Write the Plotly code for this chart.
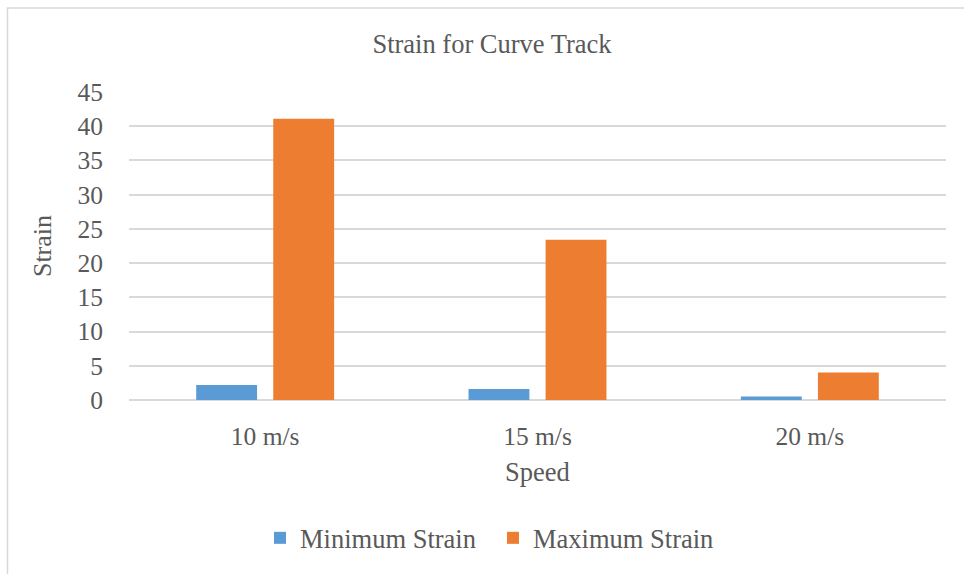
import plotly.graph_objects as go

# Chart data
speeds = ["10 m/s", "15 m/s", "20 m/s"]
min_strain = [2.2, 1.6, 0.5]
max_strain = [41.1, 23.4, 4.0]
y_ticks = [0, 5, 10, 15, 20, 25, 30, 35, 40, 45]

TEXT = "#595959"
GRID = "#D9D9D9"
FONT = "Liberation Serif, Times New Roman, serif"

fig = go.Figure()
fig.add_trace(go.Bar(name="Minimum Strain", x=speeds, y=min_strain,
                     marker=dict(color="#5B9BD5", line=dict(width=0))))
fig.add_trace(go.Bar(name="Maximum Strain", x=speeds, y=max_strain,
                     marker=dict(color="#ED7D31", line=dict(width=0))))

W, H = 964, 574
L, R, T, B = 129, 18, 92, 172
pw, ph = W - L - R, H - T - B

def px_x(p):
    return (p - L) / pw

def px_y(p):
    return (H - B - p) / ph

fig.update_layout(
    width=W, height=H,
    margin=dict(l=L, r=R, t=T, b=B),
    paper_bgcolor="white", plot_bgcolor="white",
    font=dict(family=FONT, color=TEXT, size=25),
    barmode="group", bargap=0.434, bargroupgap=0.21,
    title=dict(text="Strain for Curve Track", x=492 / W, xanchor="center",
               y=1 - 44 / H, yanchor="middle",
               font=dict(size=26.5, color=TEXT, family=FONT)),
    xaxis=dict(title=dict(text="Speed", font=dict(size=26.5), standoff=12),
               showgrid=False, showline=False,
               ticks="outside", ticklen=13, tickcolor="rgba(0,0,0,0)",
               tickfont=dict(size=25.5)),
    yaxis=dict(title=dict(text="Strain", font=dict(size=26), standoff=18),
               range=[0, 45], tickvals=y_ticks, showgrid=True,
               gridcolor=GRID, gridwidth=1.5, zeroline=True,
               zerolinecolor=GRID, zerolinewidth=1.5, showline=False,
               ticks="outside", ticklen=20, tickcolor="rgba(0,0,0,0)",
               tickfont=dict(size=25.5)),
    legend=dict(orientation="h", x=px_x(493), xanchor="center",
                y=px_y(541), yanchor="middle",
                font=dict(size=26.5, color=TEXT), traceorder="normal",
                itemwidth=30, entrywidth=188),
    shapes=[dict(type="rect", xref="paper", yref="paper",
                 x0=px_x(7.5), x1=px_x(970), y0=px_y(580), y1=px_y(7.5),
                 line=dict(color=GRID, width=1.5), layer="below")],
)

fig.write_html("out.html")
